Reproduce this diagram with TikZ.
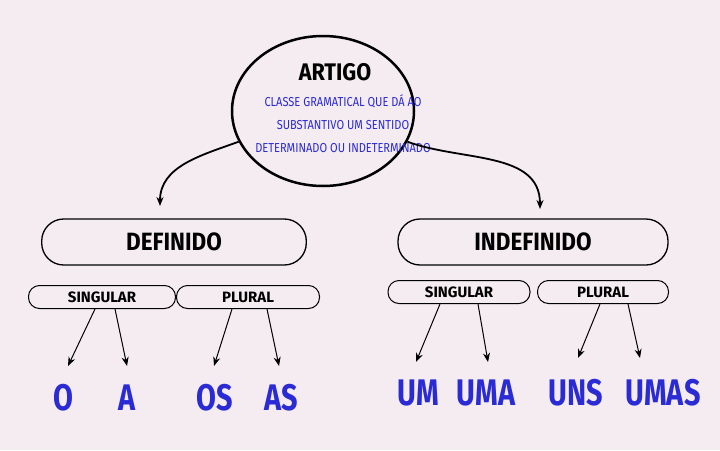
\documentclass[tikz,border=0pt]{standalone}
\usepackage{fontspec}
\setmainfont{Fira Sans}
\usetikzlibrary{shapes.geometric,arrows.meta}
\definecolor{bg}{HTML}{F4ECF0}
\definecolor{ink}{HTML}{2B2BD6}
\begin{document}
\begin{tikzpicture}[x=1pt,y=-1pt,
	bigbox/.style={
		shape=rectangle,
		draw,
		rounded corners=22pt,
		line width=1.3pt,
		minimum width=265pt,
		minimum height=46pt,
		font=\fontsize{25}{27}\selectfont\bfseries,
		xscale=0.9,
	},
	pill/.style={
		shape=rectangle,
		draw,
		rounded corners=11pt,
		line width=1pt,
		minimum height=23pt,
		font=\fontsize{15}{17}\selectfont\bfseries,
	},
	word/.style={
		text=ink,
		font=\fontsize{37}{39}\selectfont\bfseries,
		xscale=0.78,
	},
	def/.style={
		text=ink,
		font=\fontsize{13}{15}\selectfont,
		xscale=0.85,
	},
	>={Stealth[length=9pt,width=7pt]},
	line width=1pt,
]
\fill[bg] (0,0) rectangle (720,450);

\node (artigo) [ellipse, draw, line width=2.5pt, minimum width=182pt, minimum height=150pt] at (323,111) {};
\node (title) [font=\fontsize{24}{26}\selectfont\bfseries, xscale=0.9] at (335,72) {ARTIGO};
\node (l1) [def] at (343,101) {CLASSE GRAMATICAL QUE DÁ AO};
\node (l2) [def] at (343,125) {SUBSTANTIVO UM SENTIDO};
\node (l3) [def] at (343,148) {DETERMINADO OU INDETERMINADO};

\node (definido) [bigbox, minimum width=294pt] at (174,242) {DEFINIDO};
\node (indefinido) [bigbox, minimum width=300pt] at (533,242) {INDEFINIDO};

\node (sing1) [pill, minimum width=147pt] at (102,297) {SINGULAR};
\node (plur1) [pill, minimum width=143pt] at (248,297) {PLURAL};
\node (sing2) [pill, minimum width=142pt] at (459,292) {SINGULAR};
\node (plur2) [pill, minimum width=131pt] at (603,292) {PLURAL};

\node (o) [word] at (63,398) {O};
\node (a) [word] at (127,398) {A};
\node (os) [word] at (215,398) {OS};
\node (as) [word] at (281,398) {AS};
\node (um) [word] at (418,393) {UM};
\node (uma) [word] at (486,393) {UMA};
\node (uns) [word] at (576,393) {UNS};
\node (umas) [word] at (663,393) {UMAS};

\draw[->, line width=1.8pt] (artigo.200) to[out=200, in=90] (160,206);
\draw[->, line width=1.8pt] (artigo.-20) to[out=-20, in=90] (540,209);

\draw[->] (sing1.south -| 95,0) -- (68,366);
\draw[->] (sing1.south -| 115,0) -- (127,366);
\draw[->] (plur1.south -| 232,0) -- (214,366);
\draw[->] (plur1.south -| 267,0) -- (279,366);
\draw[->] (sing2.south -| 440,0) -- (416,362);
\draw[->] (sing2.south -| 478,0) -- (488,362);
\draw[->] (plur2.south -| 600,0) -- (578,358);
\draw[->] (plur2.south -| 628,0) -- (640,358);
\end{tikzpicture}
\end{document}
